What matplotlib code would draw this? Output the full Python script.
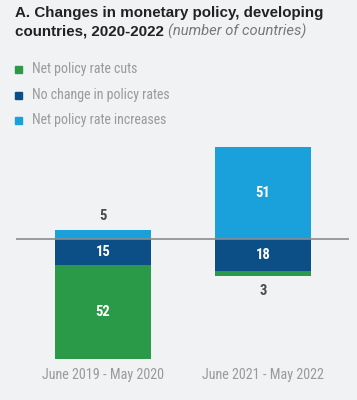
import matplotlib.pyplot as plt
from matplotlib.transforms import blended_transform_factory

# data
periods = ["June 2019 - May 2020", "June 2021 - May 2022"]
cuts = [52, 3]
no_change = [15, 18]
increases = [5, 51]
series_names = ["Net policy rate cuts", "No change in policy rates", "Net policy rate increases"]

GREEN = "#2A9A48"
DARK = "#0B4F86"
LIGHT = "#1AA0DB"
BG = "#F1F2F4"
COND = ["Roboto Condensed", "DejaVu Sans"]
TITLE = ["Liberation Sans", "DejaVu Sans"]

plt.rcParams["font.family"] = ["Roboto", "DejaVu Sans"]

fig = plt.figure(figsize=(3.57, 4.0), dpi=100, facecolor=BG)
W, H = 357, 400

# axes placed in pixel terms: x 16..349, y 140..365 (from top)
ax = fig.add_axes([16 / W, 1 - 365 / H, (349 - 16) / W, (365 - 140) / H])
ax.set_facecolor(BG)
ax.set_xlim(-0.544, 1.5375)
ax.set_ylim(-70.6, 55.1)

x = [0, 1]
bw = 0.6
neg_nc = [-v for v in no_change]
neg_cuts = [-v for v in cuts]
ax.bar(x, increases, bw, color=LIGHT, zorder=2)
ax.bar(x, neg_nc, bw, color=DARK, zorder=2)
ax.bar(x, neg_cuts, bw, bottom=neg_nc, color=GREEN, zorder=2)
ax.axhline(0, color="#8a8c8f", lw=1.2, zorder=3)

lbl = dict(ha="center", va="center", fontsize=10.5, fontweight="bold",
           family=COND, zorder=4)
for i in x:
    nc, ct, inc = no_change[i], cuts[i], increases[i]
    ax.text(i, -nc / 2, str(nc), color="white", **lbl)
    if ct > 8:
        ax.text(i, -nc - ct / 2, str(ct), color="white", **lbl)
    else:
        ax.text(i, -nc - ct - 8.5, str(ct), color="#4a4a4a", **lbl)
    if inc > 8:
        ax.text(i, inc / 2, str(inc), color="white", **lbl)
    else:
        ax.text(i, inc + 7.5, str(inc), color="#4a4a4a", **lbl)

# category labels
tr = blended_transform_factory(ax.transData, fig.transFigure)
for i, p in zip(x, periods):
    ax.text(i, 1 - 375 / H, p, transform=tr, ha="center", va="center",
            color="#9a9a9a", fontsize=10.2, family=COND)

for s in ax.spines.values():
    s.set_visible(False)
ax.set_xticks([])
ax.set_yticks([])

# title
fig.text(15 / W, 1 - 13 / H, "A. Changes in monetary policy, developing",
         ha="left", va="center", fontsize=10.9, fontweight="bold", color="#222222",
         family=TITLE)
t2 = fig.text(15 / W, 1 - 31 / H, "countries, 2020-2022 ",
              ha="left", va="center", fontsize=10.9, fontweight="bold", color="#222222",
              family=TITLE)
fig.canvas.draw()
bb = t2.get_window_extent()
fig.text(bb.x1 / W, 1 - 31.5 / H, "(number of countries)",
         ha="left", va="center", fontsize=10.6, style="italic", color="#777777")

# legend
for yp, c, name in zip([69, 95, 120], [GREEN, DARK, LIGHT], series_names):
    fig.patches.append(plt.Rectangle((15 / W, 1 - (yp + 3.5) / H), 7 / W, 7 / H,
                                     transform=fig.transFigure, color=c, figure=fig))
    fig.text(32 / W, 1 - yp / H, name, ha="left", va="center",
             fontsize=10, color="#9a9a9a", family=COND)

fig.savefig("out.png", dpi=100, facecolor=BG)
